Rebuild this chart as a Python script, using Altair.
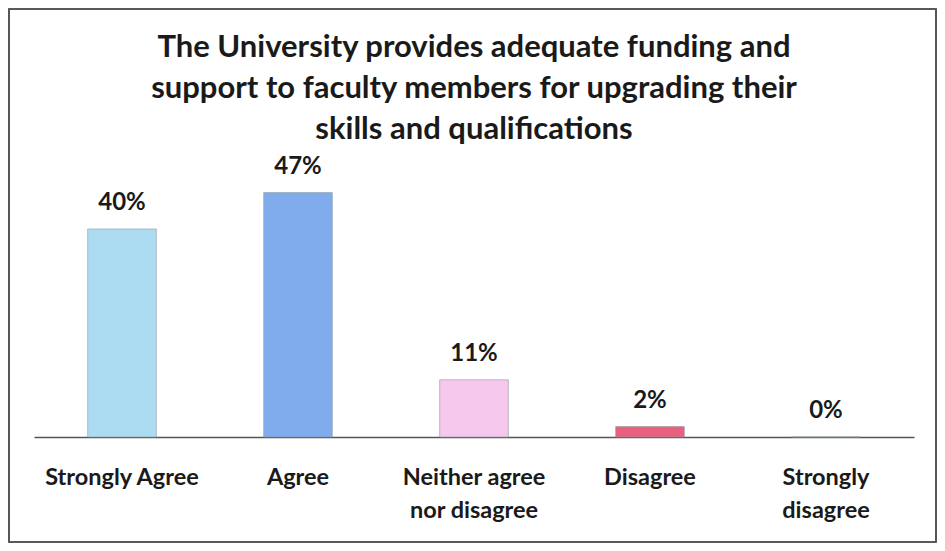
import altair as alt
import pandas as pd

categories = ["Strongly Agree", "Agree", "Neither agree nor disagree", "Disagree", "Strongly disagree"]
values = [40, 47, 11, 2, 0]
colors = ["#acdcf2", "#80acee", "#f6c8ee", "#e8607e", "#e8607e"]
title_lines = ["The University provides adequate funding and",
               "support to faculty members for upgrading their",
               "skills and qualifications"]

df = pd.DataFrame({"cat": categories, "val": values, "label": [f"{v}%" for v in values]})

FONT = "Lato"

x = alt.X("cat:N", sort=categories, title=None,
          scale=alt.Scale(paddingInner=0.61, paddingOuter=0.305),
          axis=alt.Axis(labelAngle=0, ticks=False, labelPadding=28, labelFontSize=23.5,
                        labelFontWeight="bold", labelFont=FONT, labelColor="#1a1a1a",
                        labelLineHeight=33, domainColor="#555", domainWidth=1.5,
                        labelExpr="datum.label == 'Neither agree nor disagree' ? ['Neither agree', 'nor disagree'] : datum.label == 'Strongly disagree' ? ['Strongly', 'disagree'] : datum.label"))
y = alt.Y("val:Q", scale=alt.Scale(domain=[0, 50]), axis=None)

bars = alt.Chart(df).mark_bar(stroke="#8a9aa0", strokeWidth=0.6).encode(
    x=x, y=y,
    color=alt.Color("cat:N", sort=categories, scale=alt.Scale(domain=categories, range=colors), legend=None),
)
text = alt.Chart(df).mark_text(fontSize=24, fontWeight="bold", font=FONT, color="#1a1a1a",
                               baseline="alphabetic", dy=-19).encode(
    x=alt.X("cat:N", sort=categories), y="val:Q", text="label:N")

border = alt.Chart(df).mark_rect(fill=None, stroke="#555", strokeWidth=1.2).encode(
    x=alt.value(-25), x2=alt.value(902), y=alt.value(-168), y2=alt.value(365))

chart = alt.layer(border, bars, text).properties(
    width=880, height=260,
    title=alt.Title(title_lines, fontSize=31, font=FONT, fontWeight="bold", color="#1a1a1a",
                    lineHeight=41, anchor="middle", offset=-138, frame="group"),
    autosize=alt.AutoSizeParams(type="none"),
    padding={"left": 26, "top": 169, "right": 23, "bottom": 106},
).configure_view(stroke=None)

chart.save("out.html", embed_options={"renderer": "svg", "actions": False})
